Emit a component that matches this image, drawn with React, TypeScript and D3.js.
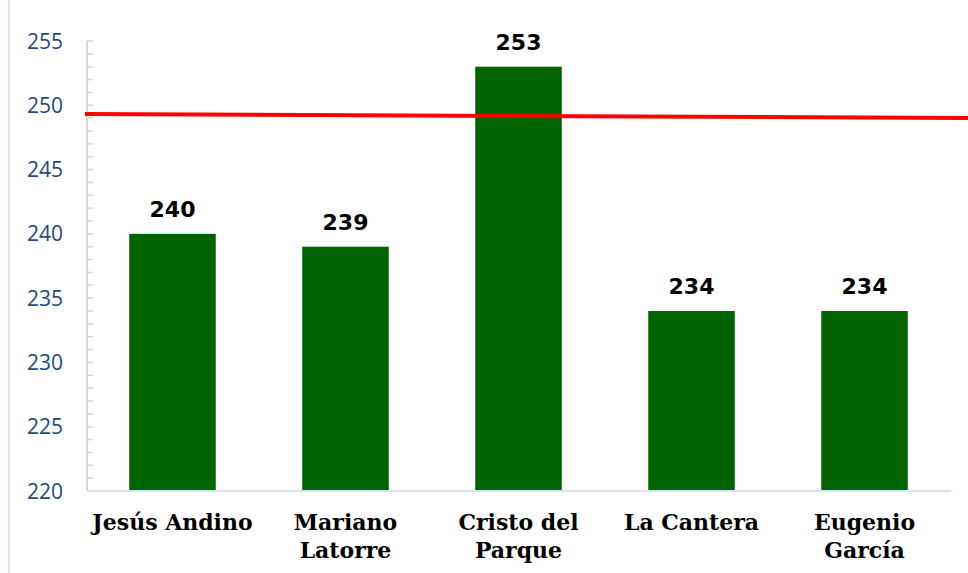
import React from "react";
import * as d3 from "d3";

const categories: string[][] = [
  ["Jesús Andino"],
  ["Mariano", "Latorre"],
  ["Cristo del", "Parque"],
  ["La Cantera"],
  ["Eugenio", "García"],
];
const values: number[] = [240, 239, 253, 234, 234];
const yTicks: number[] = [220, 225, 230, 235, 240, 245, 250, 255];
const minorTicks: number[] = d3.range(220, 256, 1);
const refLine: number[] = [249.32, 249.02];

const W = 968;
const H = 573;
const M = { left: 87, right: 16, top: 41, bottom: 82 };

export default function App() {
  const x = d3
    .scaleBand<number>()
    .domain(d3.range(values.length))
    .range([M.left - 1, M.left - 1 + 5 * 173])
    .paddingInner(0.5)
    .paddingOuter(0.25);
  const y = d3.scaleLinear().domain([220, 255]).range([H - M.bottom, M.top]);

  const lineGen = d3
    .line<number>()
    .x((_, i) => (i === 0 ? M.left - 2 : W))
    .y((d) => y(d));

  return (
    <svg
      width={W}
      height={H}
      style={{ position: "absolute", left: 0, top: 0, background: "#fff" }}
    >
      <line x1={9} x2={9} y1={0} y2={H} stroke="#dbe5f1" strokeWidth={2} />
      {/* y axis */}
      <line x1={M.left} x2={M.left} y1={y(255)} y2={y(220)} stroke="#d9d9d9" strokeWidth={2} />
      {minorTicks.map((t) => (
        <line key={t} x1={M.left} x2={M.left + 6} y1={y(t)} y2={y(t)} stroke="#d9d9d9" strokeWidth={1.5} />
      ))}
      {yTicks.map((t) => (
        <text
          key={t}
          x={63}
          y={y(t)}
          dy="0.36em"
          textAnchor="end"
          fontFamily="'Open Sans', sans-serif"
          fontSize={21}
          fill="#1f497d"
        >
          {t}
        </text>
      ))}
      {/* bars */}
      {values.map((v, i) => (
        <g key={i}>
          <rect x={x(i)} y={y(v)} width={x.bandwidth()} height={y(220) - y(v)} fill="#006400" />
          <text
            x={(x(i) as number) + x.bandwidth() / 2}
            y={y(v) - 17}
            textAnchor="middle"
            fontFamily="'DejaVu Sans', sans-serif"
            fontWeight="bold"
            fontSize={22}
            fill="#000"
          >
            {v}
          </text>
        </g>
      ))}
      {/* x axis */}
      <line x1={M.left} x2={951} y1={y(220)} y2={y(220)} stroke="#d6e3f3" strokeWidth={2} />
      {categories.map((lines, i) =>
        lines.map((l, j) => (
          <text
            key={`${i}-${j}`}
            x={(x(i) as number) + x.bandwidth() / 2}
            y={530 + j * 28}
            textAnchor="middle"
            fontFamily="'DejaVu Serif', serif"
            fontWeight="bold"
            fontSize={22}
            fill="#000"
          >
            {l}
          </text>
        ))
      )}
      {/* reference line */}
      <path d={lineGen(refLine) || ""} stroke="#ff0000" strokeWidth={4} fill="none" />
    </svg>
  );
}
